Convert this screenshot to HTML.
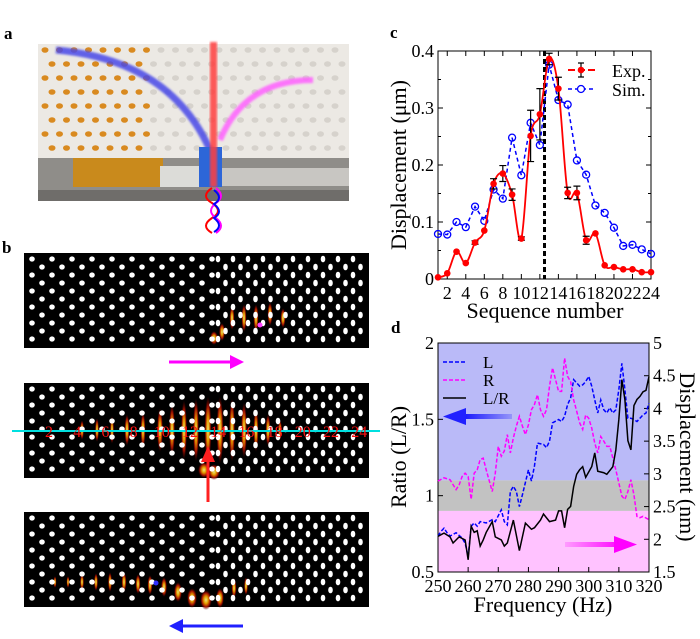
<!DOCTYPE html>
<html><head><meta charset="utf-8">
<style>
html,body{margin:0;padding:0;background:#fff;}
svg{display:block;font-family:"Liberation Serif",serif;}
</style></head>
<body>
<svg id="fig" width="700" height="639" viewBox="0 0 700 639" xmlns="http://www.w3.org/2000/svg">
<defs>
<filter id="blur1"><feGaussianBlur stdDeviation="1"/></filter>
<radialGradient id="heat" cx="50%" cy="50%" r="50%">
<stop offset="0" stop-color="#ffff90"/><stop offset="0.35" stop-color="#ffb000"/><stop offset="0.7" stop-color="#b01000"/><stop offset="1" stop-color="#400000" stop-opacity="0"/>
</radialGradient>
<linearGradient id="blueArrow" x1="1" x2="0"><stop offset="0" stop-color="#0000ff" stop-opacity="0.2"/><stop offset="1" stop-color="#0000ff"/></linearGradient>
<linearGradient id="magArrow" x1="0" x2="1"><stop offset="0" stop-color="#ff00ff" stop-opacity="0.2"/><stop offset="1" stop-color="#ff00ff"/></linearGradient>
</defs>

<text x="4" y="39" font-size="17" font-weight="bold">a</text>
<text x="2" y="253" font-size="17" font-weight="bold">b</text>
<text x="390" y="38" font-size="17" font-weight="bold">c</text>
<text x="391" y="333" font-size="17" font-weight="bold">d</text>

<g id="photo">
<rect x="38" y="44" width="311" height="157" fill="#ece9e4"/>
<g id="photoHoles"></g>
<rect x="38" y="158" width="311" height="43" fill="#8f8d89"/>
<rect x="38" y="190" width="311" height="11" fill="#6f6d6a"/>
<rect x="73" y="158" width="90" height="29" fill="#c98a1c"/>
<rect x="160" y="166" width="42" height="21" fill="#dcdcd8"/>
<rect x="200" y="168" width="149" height="18" fill="#c8c6c2"/>
<path d="M56,50 Q170,60 210,150" stroke="#4a4ae8" stroke-width="7" fill="none" opacity="0.85" filter="url(#blur1)"/>
<path d="M313,80 Q245,80 220,140" stroke="#ff60ff" stroke-width="6" fill="none" opacity="0.85" filter="url(#blur1)"/>
<rect x="199" y="147" width="23" height="40" fill="#2d66d8"/>
<rect x="210" y="42" width="7" height="145" fill="#ff4040" opacity="0.85" filter="url(#blur1)"/>
<path d="M212,188 q-12,8 0,15 q12,8 0,15 q-12,8 0,15" stroke="#ff0000" stroke-width="2" fill="none"/>
<path d="M216,188 q10,8 0,15 q-10,8 0,15 q10,8 0,15" stroke="#ff00ff" stroke-width="2" fill="none"/>
<path d="M214,190 q10,8 0,14 q10,8 0,14 q10,8 0,14" stroke="#0000ff" stroke-width="2" fill="none"/>
</g>

<g id="stripsB"></g>
<line x1="12" y1="431" x2="380" y2="431" stroke="#00e0e0" stroke-width="2"/>
<g id="seqLabels"></g>
<line x1="169" y1="362" x2="233" y2="362" stroke="#ff00ff" stroke-width="3"/>
<polygon points="244,362 230,355 230,369" fill="#ff00ff"/>
<line x1="208" y1="502" x2="208" y2="458" stroke="#ff2020" stroke-width="3"/>
<polygon points="208,446 201,462 215,462" fill="#ff2020"/>
<line x1="180" y1="626" x2="243" y2="626" stroke="#2020ff" stroke-width="3"/>
<polygon points="169,626 183,619 183,633" fill="#2020ff"/>

<g id="chartC"></g>
<g id="chartD"></g>
</svg>

<script>
// ===== Panel c data =====
const seqNums = [1,2,3,4,5,6,7,8,9,10,11,12,13,14,15,16,17,18,19,20,21,22,23,24];
const expValues = [0.003,0.01,0.048,0.028,0.064,0.085,0.167,0.185,0.148,0.071,0.251,0.289,0.386,0.334,0.151,0.151,0.068,0.08,0.024,0.021,0.017,0.017,0.012,0.012];
const expErrors = [0,0,0,0,0.003,0,0.009,0.014,0.01,0.003,0.045,0.045,0.01,0.02,0.01,0.012,0.007,0,0,0,0,0,0,0];
const simValues = [0.079,0.078,0.1,0.091,0.127,0.102,0.157,0.141,0.248,0.182,0.274,0.235,0.376,0.314,0.306,0.208,0.183,0.129,0.116,0.09,0.058,0.06,0.052,0.044];
const cYTicks = [0,0.1,0.2,0.3,0.4];
const cYTickLabels = ["0","0.1","0.2","0.3","0.4"];
const cXTicks = [2,4,6,8,10,12,14,16,18,20,22,24];
const cMarkerLine = 12.5;

// ===== Panel d data =====
const lrFreq = [250,252,254,255,257,259,260,261,262,263,264,265,266,268,269,271,272,273,275,277,279,281,282,284,285,287,289,290,291,292,293,294,295,296,297,298,299,301,302,303,305,306,308,309,310,311,312,313,314,315,316,317,318,319,320];
const lrRatio = [0.734,0.755,0.73,0.69,0.73,0.71,0.58,0.8,0.76,0.77,0.67,0.71,0.76,0.83,0.73,0.71,0.67,0.69,0.84,0.64,0.82,0.78,0.79,0.84,0.88,0.83,0.84,0.9,0.9,0.79,0.91,0.93,1.06,1.14,1.17,1.19,1.12,1.19,1.28,1.16,1.15,1.14,1.19,1.30,1.50,1.76,1.63,1.36,1.30,1.59,1.63,1.65,1.68,1.69,1.78];
const lFreq = [250,251,252,253,254,256,258,259,260,261,262,263,264,266,268,269,271,272,273,274,275,276,277,278,280,281,282,283,285,286,287,288,290,291,292,293,294,295,296,297,298,299,300,301,302,303,304,305,306,307,308,309,310,311,312,313,314,315,316,317,318,319,320];
const lDisp = [2.05,2.12,2.17,2.10,2.05,2.10,2.02,1.94,1.74,2.20,2.25,2.20,2.27,2.25,2.30,2.27,2.45,2.27,2.22,2.73,2.81,2.73,2.50,2.68,3.06,2.89,3.12,3.47,3.45,3.40,3.50,3.78,3.83,3.80,3.88,4.06,4.16,4.44,4.39,4.34,4.36,4.41,4.49,4.34,4.13,3.93,4.13,3.98,3.93,4.01,3.93,3.98,4.29,4.69,4.29,3.85,3.85,3.83,3.80,3.85,3.90,3.93,4.08];
const rFreq = [250,252,254,256,257,258,259,260,261,262,263,264,265,266,268,269,270,271,272,273,274,275,276,277,278,279,280,281,282,283,284,285,286,287,288,289,290,291,292,293,294,295,296,297,298,299,300,301,302,303,304,305,306,307,309,310,311,312,313,314,315,316,317,318,320];
const rDisp = [2.89,2.94,2.91,2.76,2.83,2.96,3.01,2.96,2.61,3.01,3.06,3.22,3.24,3.06,2.73,3.01,3.42,3.27,3.35,3.60,3.32,3.55,3.73,3.88,3.73,3.60,3.75,3.98,4.06,4.21,3.98,3.88,3.98,4.34,4.62,4.44,4.26,4.26,4.77,4.49,4.41,4.13,3.96,3.78,3.68,3.90,3.85,3.70,3.47,3.32,3.57,3.50,3.42,3.42,3.06,2.86,2.66,2.61,2.73,2.91,2.68,2.35,2.33,2.35,2.30];
const dXTicks = [250,260,270,280,290,300,310,320];
const dLeftTicks = [0.5,1,1.5,2];
const dLeftTickLabels = ["0.5","1","1.5","2"];
const dRightTicks = [1.5,2,2.5,3,3.5,4,4.5,5];
const dRightTickLabels = ["1.5","2","2.5","3","3.5","4","4.5","5"];
const bandBlueFrom = 1.1, bandGrayFrom = 0.9;

const NS = "http://www.w3.org/2000/svg";
function mk(tag, attrs, parent){
  const e = document.createElementNS(NS, tag);
  for (const k in attrs) e.setAttribute(k, attrs[k]);
  parent.appendChild(e);
  return e;
}
function catmull(pts){
  let d = "M" + pts[0][0] + "," + pts[0][1];
  for (let i=0;i<pts.length-1;i++){
    const p0=pts[Math.max(0,i-1)], p1=pts[i], p2=pts[i+1], p3=pts[Math.min(pts.length-1,i+2)];
    const c1x=p1[0]+(p2[0]-p0[0])/6, c1y=p1[1]+(p2[1]-p0[1])/6;
    const c2x=p2[0]-(p3[0]-p1[0])/6, c2y=p2[1]-(p3[1]-p1[1])/6;
    d += " C"+c1x+","+c1y+" "+c2x+","+c2y+" "+p2[0]+","+p2[1];
  }
  return d;
}

// ===== Panel a holes =====
(function(){
  const g = document.getElementById('photoHoles');
  for (let r=0;r<8;r++){
    for (let c=0;c<22;c++){
      const x = 45 + c*14.5 + (r%2)*7;
      const y = 50 + r*14;
      if (x>345) continue;
      const left = x<150;
      const e = mk('ellipse',{cx:x,cy:y,rx:3.5,ry:2.8,fill:left?'#d98a20':'#d6d2cc'},g);
      
      
    }
  }
  for (let c=0;c<6;c++){
    const e = mk('circle',{cx:55+c*50,cy:194,r:5,fill:'#2a2a2a'},g);
    
    
  }
})();

// ===== Panel b strips =====
(function(){
  const g = document.getElementById('stripsB');
  const strips = [253,383,512];
  const heats = [
    [[232,318,2.5,12],[244,318,2.5,14],[256,318,2.5,14],[270,314,2.5,12],[283,318,2.5,10],[214,338,4,7],[222,332,3,9]],
    [[82,430,2,10],[97,430,2,12],[112,430,2,14],[127,430,2.5,16],[143,430,2.5,18],[160,430,3,22],[172,430,3,26],[184,430,3,30],[196,430,3,32],[208,430,3.5,34],[220,430,3.5,34],[232,430,3,32],[244,430,3,28],[256,430,2.5,22],[268,430,2.5,16],[280,430,2,10],[204,470,6,8],[214,472,6,8]],
    [[55,582,1.5,6],[68,582,1.5,6],[82,582,2,8],[96,582,2,9],[110,582,2,10],[124,582,2.5,10],[138,584,2.5,10],[150,585,2.5,10],[164,587,3,10],[178,592,4,10],[192,598,5,10],[206,600,6,10],[220,598,4,10],[234,588,2.5,10],[246,586,2,9]]
  ];
  strips.forEach((y0,si)=>{
    const sg = mk('g',{},g);
    
    
    mk('rect',{x:24,y:y0,width:345,height:95,fill:'#000'},sg);
    heats[si].forEach(h=>{
      const e = mk('ellipse',{cx:h[0],cy:h[1],rx:h[2],ry:h[3],fill:'url(#heat)',opacity:0.9},sg);
      
      
    });
    for (let r=0;r<12;r++){
      const y = y0+6+r*8;
      if (y>y0+93) continue;
      for (let x=28+(r%2)*10; x<215; x+=20){
        const e = mk('ellipse',{cx:x+4,cy:y,rx:2.8,ry:2.6,fill:'#fff'},sg);
        
        
      }
      for (let x=218+(r%2)*7.5; x<366; x+=15){
        const e = mk('ellipse',{cx:x,cy:y,rx:2.3,ry:3.3,fill:'#fff'},sg);
        
        
      }
    }
  });
  const mdot = mk('circle',{cx:260,cy:325,r:2.5,fill:'#ff40ff'},g);
  
  
  const bdot = mk('circle',{cx:156,cy:583,r:2.5,fill:'#3030ff'},g);
  
  
  const lg = document.getElementById('seqLabels');
  for (let n=2;n<=24;n+=2){
    const t = mk('text',{x:49+(n/2-1)*28.2,y:437,'font-size':16,fill:'#ff1010','text-anchor':'middle'},lg);
    t.textContent = n;
    
    
  }
})();

// ===== Panel c =====
(function(){
  const g = document.getElementById('chartC');
  const X0=438,X1=651,Y0=51,Y1=279;
  const sx = v => X0 + (v-1)/(23)*(X1-X0);
  const sy = v => Y1 - v/0.4*(Y1-Y0);
  const frame = mk('rect',{x:X0,y:Y0,width:X1-X0,height:Y1-Y0,fill:'none',stroke:'#000','stroke-width':1},g);
  
  
  cYTicks.forEach((v,i)=>{
    const y=sy(v);
    const t1 = mk('line',{x1:X0,y1:y,x2:X0+5,y2:y,stroke:'#000'},g);
    
    
    const t2 = mk('line',{x1:X1,y1:y,x2:X1-5,y2:y,stroke:'#000'},g);
    
    
    const lb = mk('text',{x:X0-4,y:y+6,'font-size':18,'text-anchor':'end'},g);
    lb.textContent = cYTickLabels[i];
    
    
  });
  for (let v=0.05; v<0.4; v+=0.1){
    const m1 = mk('line',{x1:X0,y1:sy(v),x2:X0+3,y2:sy(v),stroke:'#000'},g);
    
    
    const m2 = mk('line',{x1:X1,y1:sy(v),x2:X1-3,y2:sy(v),stroke:'#000'},g);
    
    
  }
  cXTicks.forEach(v=>{
    const x=sx(v);
    const t = mk('line',{x1:x,y1:Y1,x2:x,y2:Y1-5,stroke:'#000'},g);
    
    
    const t2 = mk('line',{x1:x,y1:Y0,x2:x,y2:Y0+5,stroke:'#000'},g);
    
    
    const lb = mk('text',{x:x,y:Y1+20,'font-size':18,'text-anchor':'middle'},g);
    lb.textContent = v;
    
    
  });
  const xt = mk('text',{x:545,y:318,'font-size':22,'text-anchor':'middle'},g);
  xt.textContent = 'Sequence number';
  
  
  const yt = mk('text',{x:0,y:0,'font-size':22,'text-anchor':'middle',transform:'translate(406,165) rotate(-90)'},g);
  yt.textContent = 'Displacement (\u03bcm)';
  
  
  const vl = mk('line',{x1:sx(cMarkerLine),y1:Y0,x2:sx(cMarkerLine),y2:Y1,stroke:'#000','stroke-width':3,'stroke-dasharray':'5,3'},g);
  
  
  const simPts = seqNums.map((n,i)=>[sx(n),sy(simValues[i])]);
  const sl = mk('polyline',{points:simPts.map(p=>p.join(',')).join(' '),fill:'none',stroke:'#0000ff','stroke-width':1.5,'stroke-dasharray':'4,3'},g);
  
  
  simPts.forEach(p=>{
    const c = mk('circle',{cx:p[0],cy:p[1],r:3.5,fill:'none',stroke:'#0000ff','stroke-width':1.3},g);
    
    
  });
  const expPts = seqNums.map((n,i)=>[sx(n),sy(expValues[i])]);
  const el = mk('path',{d:catmull(expPts),fill:'none',stroke:'#ff0000','stroke-width':1.8},g);
  
  
  seqNums.forEach((n,i)=>{
    if (expErrors[i]>0){
      const x=sx(n), ya=sy(expValues[i]+expErrors[i]), yb=sy(expValues[i]-expErrors[i]);
      const eb = mk('path',{d:`M${x},${ya}V${yb}M${x-3.5},${ya}H${x+3.5}M${x-3.5},${yb}H${x+3.5}`,stroke:'#000','stroke-width':1.2,fill:'none'},g);
      
      
    }
  });
  expPts.forEach(p=>{
    const c = mk('circle',{cx:p[0],cy:p[1],r:3.3,fill:'#ff0000'},g);
    
    
  });
  const lg = mk('g',{},g);
  
  
  mk('line',{x1:568,y1:70,x2:595,y2:70,stroke:'#ff0000','stroke-width':2,'stroke-dasharray':'7,3'},lg);
  mk('path',{d:'M581,63V77M578,63H584M578,77H584',stroke:'#000','stroke-width':1.2,fill:'none'},lg);
  mk('circle',{cx:581,cy:70,r:3.3,fill:'#ff0000'},lg);
  const l1 = mk('text',{x:612,y:77,'font-size':18},lg);
  l1.textContent='Exp.';
  
  
  mk('line',{x1:568,y1:89,x2:595,y2:89,stroke:'#0000ff','stroke-width':1.5,'stroke-dasharray':'4,3'},lg);
  mk('circle',{cx:581,cy:89,r:3.5,fill:'#fff',stroke:'#0000ff','stroke-width':1.3},lg);
  const l2 = mk('text',{x:612,y:96,'font-size':18},lg);
  l2.textContent='Sim.';
  
  
})();

// ===== Panel d =====
(function(){
  const g = document.getElementById('chartD');
  const X0=438,X1=649,Y0=343,Y1=572;
  const sx = f => X0 + (f-250)/70*(X1-X0);
  const syL = r => Y1 - (r-0.5)/1.5*(Y1-Y0);
  const syR = d => Y1 - (d-1.5)/3.5*(Y1-Y0);
  const b1 = mk('rect',{x:X0,y:Y0,width:X1-X0,height:syL(bandBlueFrom)-Y0,fill:'#babaf8'},g);
  
  
  const b2 = mk('rect',{x:X0,y:syL(bandBlueFrom),width:X1-X0,height:syL(bandGrayFrom)-syL(bandBlueFrom),fill:'#c2c2c2'},g);
  
  
  const b3 = mk('rect',{x:X0,y:syL(bandGrayFrom),width:X1-X0,height:Y1-syL(bandGrayFrom),fill:'#ffc2ff'},g);
  
  
  const fr = mk('rect',{x:X0,y:Y0,width:X1-X0,height:Y1-Y0,fill:'none',stroke:'#000'},g);
  
  
  dLeftTicks.forEach((v,i)=>{
    const t = mk('line',{x1:X0,y1:syL(v),x2:X0+5,y2:syL(v),stroke:'#000'},g);
    
    
    const lb = mk('text',{x:X0-4,y:syL(v)+6,'font-size':18,'text-anchor':'end'},g);
    lb.textContent = dLeftTickLabels[i];
    
    
  });
  dRightTicks.forEach((v,i)=>{
    const t = mk('line',{x1:X1,y1:syR(v),x2:X1-5,y2:syR(v),stroke:'#000'},g);
    
    
    const lb = mk('text',{x:X1+4,y:syR(v)+6,'font-size':18},g);
    lb.textContent = dRightTickLabels[i];
    
    
  });
  dXTicks.forEach(v=>{
    const t = mk('line',{x1:sx(v),y1:Y1,x2:sx(v),y2:Y1-5,stroke:'#000'},g);
    
    
    const lb = mk('text',{x:sx(v),y:Y1+20,'font-size':18,'text-anchor':'middle'},g);
    lb.textContent = v;
    
    
  });
  const xt = mk('text',{x:543,y:612,'font-size':22,'text-anchor':'middle'},g);
  xt.textContent='Frequency (Hz)';
  
  
  const yl = mk('text',{x:0,y:0,'font-size':22,'text-anchor':'middle',transform:'translate(406,457) rotate(-90)'},g);
  yl.textContent='Ratio (L/R)';
  
  
  const yr = mk('text',{x:0,y:0,'font-size':22,'text-anchor':'middle',transform:'translate(680,457) rotate(90)'},g);
  yr.textContent='Displacement (nm)';
  
  
  const lLine = mk('polyline',{points:lFreq.map((f,i)=>sx(f)+','+syR(lDisp[i])).join(' '),fill:'none',stroke:'#0000ff','stroke-width':1.5,'stroke-dasharray':'4,2'},g);
  
  
  const rLine = mk('polyline',{points:rFreq.map((f,i)=>sx(f)+','+syR(rDisp[i])).join(' '),fill:'none',stroke:'#ff00ff','stroke-width':1.5,'stroke-dasharray':'4,2'},g);
  
  
  const lrLine = mk('polyline',{points:lrFreq.map((f,i)=>sx(f)+','+syL(lrRatio[i])).join(' '),fill:'none',stroke:'#000','stroke-width':1.5},g);
  
  
  const lg = mk('g',{},g);
  
  
  const items=[['L','#0000ff','4,2'],['R','#ff00ff','4,2'],['L/R','#000','none']];
  items.forEach((it,i)=>{
    const y=362+i*18;
    mk('line',{x1:443,y1:y,x2:466,y2:y,stroke:it[1],'stroke-width':1.5,'stroke-dasharray':it[2]},lg);
    const t = mk('text',{x:483,y:y+6,'font-size':17},lg);
    t.textContent=it[0];
    
    
  });
  const ba = mk('rect',{x:455,y:414,width:57,height:5,fill:'url(#blueArrow)'},g);
  
  
  const bh = mk('polygon',{points:'443,416.5 466,408 466,425',fill:'#2020ff'},g);
  
  
  const ma = mk('rect',{x:565,y:542,width:58,height:5,fill:'url(#magArrow)'},g);
  
  
  const mh = mk('polygon',{points:'637,544.5 614,536 614,553',fill:'#ff00ff'},g);
  
  
})();
</script>
</body></html>
